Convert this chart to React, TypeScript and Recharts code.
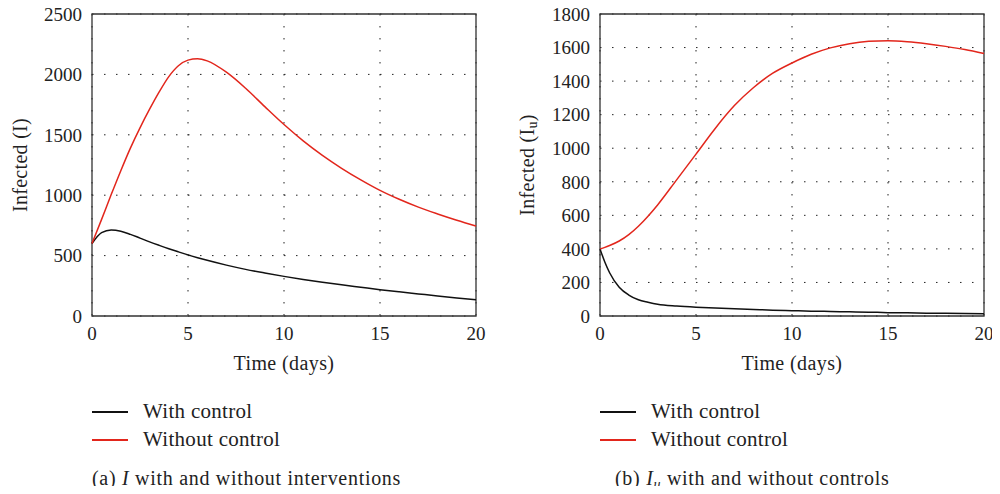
import React from 'react';
import {
  LineChart,
  Line,
  XAxis,
  YAxis,
  CartesianGrid,
  ReferenceArea,
  Label,
} from 'recharts';

// panel (a): I
const timeA = [0, 0.5, 1, 1.5, 2, 2.5, 3, 3.5, 4, 4.5, 5, 5.5, 6, 7, 8, 9, 10, 11, 12, 13, 14, 15, 16, 17, 18, 19, 20];
const withControlA = [600, 690, 712, 702, 676, 645, 614, 585, 557, 531, 506, 483, 461, 421, 386, 356, 328, 303, 280, 258, 238, 218, 200, 183, 166, 150, 135];
const withoutControlA = [600, 800, 1005, 1203, 1390, 1558, 1712, 1855, 1982, 2072, 2118, 2130, 2112, 2018, 1885, 1733, 1585, 1450, 1330, 1223, 1127, 1040, 966, 901, 845, 793, 745];
const yTicksA = [0, 500, 1000, 1500, 2000, 2500];

// panel (b): I_u
const timeB = [0, 0.25, 0.5, 1, 1.5, 2, 2.5, 3, 4, 5, 6, 7, 8, 9, 10, 11, 12, 13, 14, 15, 16, 17, 18, 19, 20];
const withControlB = [400, 322, 258, 172, 125, 97, 82, 70, 59, 52, 47, 43, 39, 35, 32, 29, 27, 25, 23, 20, 19, 17, 16, 15, 14];
const withoutControlB = [400, 409, 420, 447, 485, 535, 595, 662, 813, 965, 1118, 1254, 1362, 1447, 1508, 1560, 1598, 1623, 1637, 1641, 1635, 1623, 1607, 1588, 1564];
const yTicksB = [0, 200, 400, 600, 800, 1000, 1200, 1400, 1600, 1800];

const xTicks = [0, 5, 10, 15, 20];

const FONT = 'Liberation Serif, DejaVu Serif, Noto Serif, serif';
const BLACK = '#111';
const RED = '#e2261c';

const rowsA = timeA.map((t, i) => ({ t, withCtl: withControlA[i], withoutCtl: withoutControlA[i] }));
const rowsB = timeB.map((t, i) => ({ t, withCtl: withControlB[i], withoutCtl: withoutControlB[i] }));

type PanelProps = {
  rows: { t: number; withCtl: number; withoutCtl: number }[];
  yTicks: number[];
  yAxisWidth: number;
  labelX: number;
  sub?: boolean;
};

const Panel = ({ rows, yTicks, yAxisWidth, labelX, sub }: PanelProps) => {
  const yMax = yTicks[yTicks.length - 1];
  const tickStyle = { fontFamily: FONT, fontSize: 19, fill: '#222' };
  return (
    <LineChart
      width={500}
      height={400}
      data={rows}
      margin={{ top: 14, right: 500 - yAxisWidth - 384, bottom: 0, left: 0 }}
    >
      <CartesianGrid stroke="#222" strokeDasharray="1.5 10.5" />
      <XAxis
        dataKey="t"
        type="number"
        domain={[0, 20]}
        ticks={xTicks}
        height={84}
        tickSize={0}
        tickMargin={11}
        tickLine={false}
        axisLine={false}
        tick={tickStyle}
      >
        <Label
          content={({ viewBox }: any) => (
            <text
              x={viewBox.x + viewBox.width / 2}
              y={viewBox.y + 47}
              textAnchor="middle"
              dominantBaseline="central"
              fontFamily={FONT}
              fontSize={20}
              letterSpacing={0.4}
              fill="#222"
            >
              Time (days)
            </text>
          )}
        />
      </XAxis>
      <YAxis
        type="number"
        domain={[0, yMax]}
        ticks={yTicks}
        width={yAxisWidth}
        tickSize={0}
        tickMargin={10}
        tickLine={false}
        axisLine={false}
        tick={tickStyle}
      >
        <Label
          content={({ viewBox }: any) => {
            const cy = viewBox.y + viewBox.height / 2;
            return (
              <text
                x={labelX}
                y={cy}
                transform={`rotate(-90, ${labelX}, ${cy})`}
                textAnchor="middle"
                dominantBaseline="central"
                fontFamily={FONT}
                fontSize={20}
                letterSpacing={0.3}
                fill="#222"
              >
                {sub ? (
                  <>
                    Infected (I<tspan fontSize={14} dy={5}>u</tspan><tspan dy={-5}>)</tspan>
                  </>
                ) : (
                  'Infected (I)'
                )}
              </text>
            );
          }}
        />
      </YAxis>
      <ReferenceArea
        x1={0}
        x2={20}
        y1={0}
        y2={yMax}
        fill="none"
        stroke="#333"
        strokeWidth={1.3}
        ifOverflow="visible"
      />
      <Line
        type="monotone"
        dataKey="withCtl"
        stroke={BLACK}
        strokeWidth={1.5}
        dot={false}
        isAnimationActive={false}
      />
      <Line
        type="monotone"
        dataKey="withoutCtl"
        stroke={RED}
        strokeWidth={1.5}
        dot={false}
        isAnimationActive={false}
      />
    </LineChart>
  );
};

const LegendBlock = ({ left, lineLeft, captionLeft, caption }: { left: number; lineLeft: number; captionLeft: number; caption: React.ReactNode }) => {
  const textStyle: React.CSSProperties = {
    position: 'absolute',
    fontFamily: FONT,
    fontSize: 21,
    color: '#222',
    lineHeight: '24px',
    whiteSpace: 'nowrap',
    letterSpacing: 0.3,
  };
  return (
    <>
      <div style={{ position: 'absolute', left: lineLeft, top: 411, width: 36, height: 1.5, background: BLACK }} />
      <div style={{ ...textStyle, left, top: 399 }}>With control</div>
      <div style={{ position: 'absolute', left: lineLeft, top: 439, width: 36, height: 1.5, background: RED }} />
      <div style={{ ...textStyle, left, top: 427 }}>Without control</div>
      <div style={{ ...textStyle, left: captionLeft, top: 466, fontSize: 20, letterSpacing: 0.7 }}>{caption}</div>
    </>
  );
};

export default function App() {
  return (
    <div style={{ position: 'relative', width: 1000, height: 494, margin: -8, background: '#fff', overflow: 'hidden' }}>
      <div style={{ position: 'absolute', left: 0, top: 0 }}>
        <Panel rows={rowsA} yTicks={yTicksA} yAxisWidth={92} labelX={20} />
      </div>
      <div style={{ position: 'absolute', left: 500, top: 0 }}>
        <Panel rows={rowsB} yTicks={yTicksB} yAxisWidth={100} labelX={27} sub />
      </div>
      <LegendBlock
        left={143}
        lineLeft={92}
        captionLeft={92}
        caption={<>(a) <i>I</i> with and without interventions</>}
      />
      <LegendBlock
        left={651}
        lineLeft={600}
        captionLeft={615}
        caption={
          <>
            (b) <i>I<sub style={{ fontSize: 14, verticalAlign: -4, lineHeight: 0 }}>u</sub></i> with and without controls
          </>
        }
      />
    </div>
  );
}
